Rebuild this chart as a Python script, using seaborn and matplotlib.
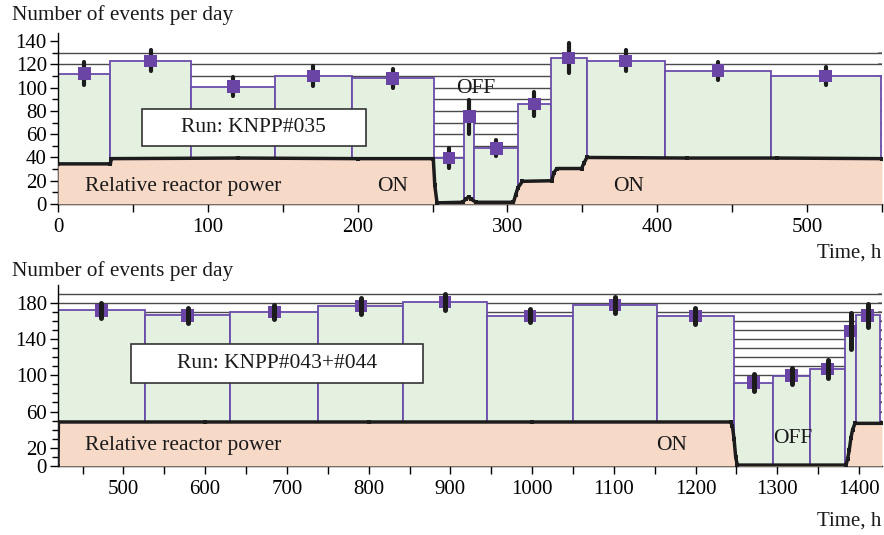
import numpy as np
import pandas as pd
import matplotlib
matplotlib.use("Agg")
import matplotlib.pyplot as plt
from matplotlib.patches import Rectangle
from matplotlib.ticker import MultipleLocator, FixedLocator
import seaborn as sns

# ---------------- Run KNPP#035 ----------------
run1_edges = [0, 35, 89, 145, 196, 251, 271, 278, 307, 329, 353, 405, 476, 549]
run1_rates = [112, 123, 101, 110, 108, 39.5, 75, 48, 86, 125.5, 123, 114.5, 110]
run1_errors = [10, 9, 8.5, 8.5, 8, 8.5, 14.5, 7, 10.5, 12.5, 9, 7.5, 8]
run1_power_t = [0, 35, 35.5, 120, 200, 250.5, 251.5, 253, 270, 272, 274, 276, 279,
                304, 305.5, 307, 310, 329.5, 331, 333, 349.5, 351, 353, 420, 480, 550]
run1_power = [34.5, 34.5, 39, 39.5, 39, 39, 16, 1, 1.5, 4, 6, 4, 1.5,
              1.5, 8, 14, 19.5, 20, 27, 30.5, 30.5, 35, 40, 39.5, 39.5, 39]

# ---------------- Run KNPP#043+#044 ----------------
run2_edges = [420, 526, 631, 738.5, 842.5, 945, 1050.5, 1152.5, 1247, 1295,
              1340, 1383, 1396, 1425]
run2_rates = [171.5, 166, 169.5, 176.5, 180.5, 165.5, 177.5, 165, 92, 99.5,
              107, 149, 166]
run2_errors = [8.5, 8, 8, 8.5, 9, 7, 8.5, 9, 9, 9, 10, 20, 13]
run2_power_t = [420, 420.5, 600, 800, 1000, 1243, 1245, 1247, 1249, 1251,
                1384, 1386, 1388, 1390, 1392, 1395, 1428]
run2_power = [0, 48.5, 48.5, 48.5, 48.5, 48.5, 44, 30, 10, 1,
              1, 8, 18, 31, 40, 47, 47]

GREEN = "#E4F1E1"
SALMON = "#F7D9C8"
EDGE_PURPLE = "#6A4CAA"
MARK_PURPLE = "#6B45A6"
INK = "#1c1c1c"
GRID = "#4a4a4a"

sns.set_theme(style="ticks")
plt.rcParams["font.family"] = ["Liberation Serif", "DejaVu Serif"]
plt.rcParams["axes.facecolor"] = "white"

W, H = 884, 535
fig = plt.figure(figsize=(W / 100, H / 100), dpi=100)


def px_axes(left, right, top, bottom):
    return fig.add_axes([left / W, 1 - bottom / H, (right - left) / W, (bottom - top) / H])


ax1 = px_axes(58, 882, 33, 204)
ax2 = px_axes(58, 882, 284.5, 466)


def draw_run(ax, edges, rates, errors, pt, pw, grid_levels, err_lw, mk_size,
             marker_on_top):
    edges = [float(e) for e in edges]
    centers = [(a + b) / 2 for a, b in zip(edges[:-1], edges[1:])]
    df = pd.DataFrame({"t": centers, "rate": rates, "err": errors})

    # horizontal reference lines behind the bars
    ax.hlines(grid_levels, edges[0] - 50, edges[-1] + 50, color=GRID, lw=1.0, zorder=1)

    # daily event rate as variable-width bars
    sns.histplot(data=df, x="t", weights="rate", bins=edges, stat="count",
                 element="bars", fill=True, ax=ax, facecolor=GREEN,
                 edgecolor=EDGE_PURPLE, linewidth=1.3, alpha=1, zorder=2)

    # relative reactor power
    pdf = pd.DataFrame({"t": pt, "p": pw})
    ax.fill_between(pdf["t"], 0, pdf["p"], color=SALMON, lw=0, zorder=3)
    sns.lineplot(data=pdf, x="t", y="p", ax=ax, color=INK, lw=2.5, sort=False,
                 marker="s", markersize=3.5, markeredgewidth=0, zorder=4)

    # rate points with error bars
    z_mark, z_err = (7, 6) if marker_on_top else (6, 7)
    for t, r, e in zip(df["t"], df["rate"], df["err"]):
        ax.plot([t, t], [r - e, r + e], color=INK, lw=err_lw,
                solid_capstyle="round", zorder=z_err)
    sns.scatterplot(data=df, x="t", y="rate", ax=ax, marker="s", s=mk_size,
                    color=MARK_PURPLE, edgecolor="none", zorder=z_mark)

    ax.set_xlabel("")
    ax.set_ylabel("")
    for side in ("top", "right"):
        ax.spines[side].set_visible(False)
    for side in ("left", "bottom"):
        ax.spines[side].set_color("black")
        ax.spines[side].set_linewidth(1.0)
    ax.tick_params(axis="both", which="both", colors="black", width=1.0,
                   labelsize=15, direction="out")
    ax.tick_params(axis="x", which="major", length=6, pad=4)
    ax.tick_params(axis="x", which="minor", length=6)
    ax.tick_params(axis="y", which="major", length=6, pad=2)
    ax.tick_params(axis="y", which="minor", length=4)

    # short inner ticks on the right edge
    sec = ax.secondary_yaxis("right")
    sec.set_yticks(list(grid_levels))
    sec.tick_params(direction="in", length=3, color="#8a8a8a", labelright=False)
    sec.spines["right"].set_visible(False)


draw_run(ax1, run1_edges, run1_rates, run1_errors, run1_power_t, run1_power,
         np.arange(10, 131, 10), 3.0, 85, True)
draw_run(ax2, run2_edges, run2_rates, run2_errors, run2_power_t, run2_power,
         np.arange(10, 191, 10), 3.6, 80, False)

# axis ranges and ticks
ax1.set_xlim(0, 550)
ax1.set_ylim(0, 147)
ax1.xaxis.set_major_locator(MultipleLocator(100))
ax1.xaxis.set_minor_locator(MultipleLocator(50))
ax1.yaxis.set_major_locator(MultipleLocator(20))
ax1.yaxis.set_minor_locator(MultipleLocator(10))

ax2.set_xlim(420, 1428)
ax2.set_ylim(0, 200)
ax2.xaxis.set_major_locator(MultipleLocator(100))
ax2.xaxis.set_minor_locator(MultipleLocator(50))
ax2.yaxis.set_major_locator(FixedLocator([0, 20, 60, 100, 140, 180]))
ax2.yaxis.set_minor_locator(FixedLocator([10, 30, 40, 50, 70, 80, 90, 110, 120,
                                          130, 150, 160, 170]))

# in-plot annotations
TXT = dict(fontsize=15.5, color="#1a1a1a", zorder=8)
ax1.text(18, 15, "Relative reactor power", ha="left", va="center", **TXT)
ax1.text(223, 15, "ON", ha="center", va="center", **TXT)
ax1.text(381, 15, "ON", ha="center", va="center", **TXT)
ax1.text(279, 99, "OFF", ha="center", va="center", **TXT)
ax1.add_patch(Rectangle((56, 50), 149.5, 31.5, facecolor="white",
                        edgecolor="#333333", lw=1.2, zorder=8))
ax1.text(130.5, 65.7, "Run: KNPP#035", ha="center", va="center",
         fontsize=15.5, color="#1a1a1a", zorder=9)

ax2.text(453, 23, "Relative reactor power", ha="left", va="center", **TXT)
ax2.text(1171, 23, "ON", ha="center", va="center", **TXT)
ax2.text(1319, 30, "OFF", ha="center", va="center", **TXT)
ax2.add_patch(Rectangle((509.5, 91.5), 356.5, 43, facecolor="white",
                        edgecolor="#333333", lw=1.2, zorder=8))
ax2.text(687.5, 112.7, "Run: KNPP#043+#044", ha="center", va="center",
         fontsize=15.5, color="#1a1a1a", zorder=9)

# axis titles
fig.text(12 / W, 1 - 15 / H, "Number of events per day", ha="left", va="center",
         fontsize=15.3, color="#1a1a1a")
fig.text(12 / W, 1 - 271 / H, "Number of events per day", ha="left", va="center",
         fontsize=15.3, color="#1a1a1a")
fig.text(881 / W, 1 - 253 / H, "Time, h", ha="right", va="center",
         fontsize=15, color="#1a1a1a")
fig.text(881 / W, 1 - 521 / H, "Time, h", ha="right", va="center",
         fontsize=15, color="#1a1a1a")

fig.savefig("out.png", dpi=100)
